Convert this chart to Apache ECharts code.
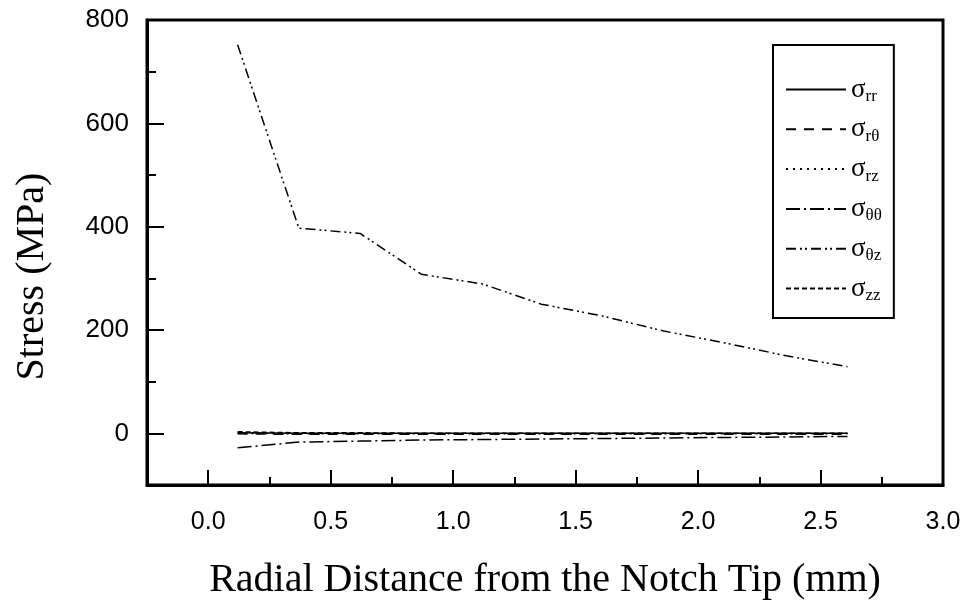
<!DOCTYPE html>
<html><head><meta charset="utf-8">
<script src="https://cdn.jsdelivr.net/npm/echarts@6/dist/echarts.min.js"></script>
<style>html,body{margin:0;padding:0;background:#fff}#c{width:970px;height:606px}</style>
</head><body><div id="c"></div>
<script>
// Radial distance (mm)
const xValues = [0.12, 0.37, 0.62, 0.87, 1.12, 1.36, 1.61, 1.86, 2.11, 2.36, 2.61];
// Stress components (MPa)
const sigmaRR = [1, 0, 0, 0, 0, 0, 0, 0, 0, 0, 0];
const sigmaRT = [-1, -2, -2, -2, -2, -2, -2, -2, -2, -2, -2];
const sigmaRZ = [0, -1, -1, -1, -1, -1, -1, -1, -1, -1, -1];
const sigmaTT = [-28, -17, -15, -13, -12, -11, -10, -9, -8, -7, -6];
const sigmaTZ = [752, 397, 387, 308, 289, 250, 227, 198, 175, 150, 129];
const sigmaZZ = [3, 1, 1, 0, 0, 0, 0, 0, 0, 0, 0];
const seriesNames = ['rr', 'rθ', 'rz', 'θθ', 'θz', 'zz'];
const xMajorTicks = [0, 0.5, 1.0, 1.5, 2.0, 2.5, 3.0];
const xMinorTicks = [0.25, 0.75, 1.25, 1.75, 2.25, 2.75];
const yMajorTicks = [0, 200, 400, 600, 800];
const yMinorTicks = [-100, 100, 300, 500, 700];

const allData = [sigmaRR, sigmaRT, sigmaRZ, sigmaTT, sigmaTZ, sigmaZZ];
const dashes = ['solid', [10, 8], [2, 5], [14, 4, 2, 4], [10, 4, 2, 3, 2, 4], [5, 3]];

const chart = echarts.init(document.getElementById('c'));
const serif = '"Liberation Serif","Times New Roman",serif';
const sans = '"Liberation Sans",Arial,sans-serif';

chart.setOption({
  animation: false,
  backgroundColor: '#fff',
  grid: { left: 147, top: 20, right: 27, bottom: 121, show: true, borderColor: '#000', borderWidth: 3, backgroundColor: 'transparent' },
  legend: {
    orient: 'vertical', left: 773, top: 45,
    padding: [29, 12, 14, 12],
    borderColor: '#000', borderWidth: 2,
    itemWidth: 60, itemHeight: 16, itemGap: 11.5 - 2.7,
    data: seriesNames,
    itemStyle: { opacity: 0 },
    formatter: n => '{s|σ}{sub|' + n + '}',
    textStyle: {
      color: '#000',
      rich: {
        s: { fontFamily: serif, fontSize: 27, color: '#000', lineHeight: 28 },
        sub: { fontFamily: serif, fontSize: 17, color: '#000', lineHeight: 28, padding: [14, 0, 0, 0] }
      }
    }
  },
  xAxis: [{
    type: 'value', min: -0.25, max: 3.0, interval: 0.25,
    name: 'Radial Distance from the Notch Tip (mm)', nameLocation: 'middle', nameGap: 75,
    nameTextStyle: { fontFamily: serif, fontSize: 40, color: '#000' },
    axisLine: { show: true, onZero: false, lineStyle: { color: '#000', width: 3 } },
    axisTick: { show: true, inside: true, length: 15, customValues: xMajorTicks, lineStyle: { color: '#000', width: 2 } },
    axisLabel: { customValues: xMajorTicks, formatter: v => v.toFixed(1), fontFamily: sans, fontSize: 25, color: '#000', margin: 25 },
    splitLine: { show: false }
  }, {
    type: 'value', min: -0.25, max: 3.0, position: 'bottom', interval: 0.25,
    axisLine: { show: false, onZero: false },
    axisTick: { show: true, inside: true, length: 8, customValues: xMinorTicks, lineStyle: { color: '#000', width: 2 } },
    axisLabel: { show: false }, splitLine: { show: false }
  }],
  yAxis: [{
    type: 'value', min: -100, max: 800, interval: 100,
    name: 'Stress (MPa)', nameLocation: 'middle', nameGap: 95,
    nameTextStyle: { fontFamily: serif, fontSize: 40, color: '#000', padding: [0, 48, 0, 0] },
    axisLine: { show: true, onZero: false, lineStyle: { color: '#000', width: 3 } },
    axisTick: { show: true, inside: true, length: 17, customValues: yMajorTicks, lineStyle: { color: '#000', width: 2 } },
    axisLabel: { customValues: yMajorTicks, fontFamily: sans, fontSize: 26, color: '#000', margin: 18 },
    splitLine: { show: false }
  }, {
    type: 'value', min: -100, max: 800, position: 'left', interval: 100,
    axisLine: { show: false, onZero: false },
    axisTick: { show: true, inside: true, length: 9, customValues: yMinorTicks, lineStyle: { color: '#000', width: 2 } },
    axisLabel: { show: false }, splitLine: { show: false }
  }],
  series: seriesNames.map((n, i) => ({
    name: n, type: 'line', xAxisIndex: 0, yAxisIndex: 0,
    data: xValues.map((x, j) => [x, allData[i][j]]),
    symbol: 'none', z: 3,
    lineStyle: { color: '#000', width: 1.5, type: dashes[i] },
    itemStyle: { color: '#000' }
  }))
});
</script></body></html>
